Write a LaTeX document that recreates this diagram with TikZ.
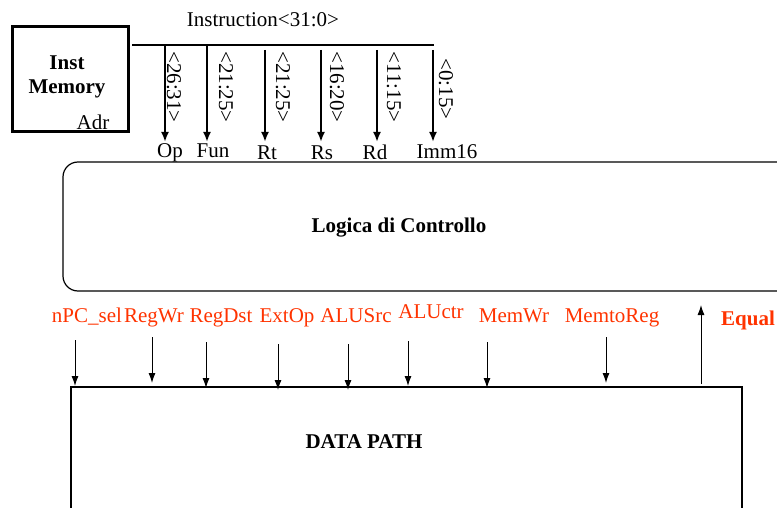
\documentclass[tikz,border=0pt]{standalone}
\usepackage{fontspec}
\setmainfont{Liberation Serif}
\usetikzlibrary{arrows.meta}
\definecolor{sigred}{RGB}{255,51,0}
\begin{document}
\begin{tikzpicture}[x=1pt,y=-1pt,
  every node/.style={inner sep=0pt,outer sep=0pt,font=\fontsize{21}{25}\selectfont},
  lbl/.style={anchor=base},
  sig/.style={anchor=base,text=sigred},
  bitlbl/.style={rotate=-90,anchor=center},
  busarrow/.style={line width=2pt,-{Latex[length=10pt,width=8pt]}},
  ctlarrow/.style={line width=1pt,-{Latex[length=10pt,width=7pt]}}]
\useasboundingbox (0,0) rectangle (777,508);
\begin{scope}
\clip (0,0) rectangle (777,508);
% Inst memory
\draw[line width=3pt] (12,27) rectangle (128,132);
\node[lbl,font=\fontsize{21}{25}\selectfont\bfseries] (inst) at (67,70) {Inst};
\node[lbl,font=\fontsize{21}{25}\selectfont\bfseries] (mem) at (67,94) {Memory};
\node[lbl] (adr) at (93,130) {Adr};
% bus
\coordinate (busL) at (132,45);
\coordinate (busR) at (434,45);
\draw[line width=2.5pt] (busL) -- (busR);
\node[lbl] (instr) at (263,27) {Instruction<31:0>};
% bit fields
\coordinate (s1) at (165,45); \coordinate (e1) at (165,142);
\coordinate (s2) at (207,45); \coordinate (e2) at (207,142);
\coordinate (s3) at (265,50); \coordinate (e3) at (265,142);
\coordinate (s4) at (321,50); \coordinate (e4) at (321,142);
\coordinate (s5) at (377,50); \coordinate (e5) at (377,142);
\coordinate (s6) at (433,50); \coordinate (e6) at (433,142);
\foreach \i in {1,...,6} \draw[busarrow] (s\i) -- (e\i);
\node[bitlbl] (b1) at (174,87) {<26:31>};
\node[bitlbl] (b2) at (226,87) {<21:25>};
\node[bitlbl] (b3) at (283,87) {<21:25>};
\node[bitlbl] (b4) at (337,87) {<16:20>};
\node[bitlbl] (b5) at (394,87) {<11:15>};
\node[bitlbl] (b6) at (446,89) {<0:15>};
\node[lbl] (op) at (170,158) {Op};
\node[lbl] (fun) at (213,158) {Fun};
\node[lbl] (rt) at (267,160) {Rt};
\node[lbl] (rs) at (322,160) {Rs};
\node[lbl] (rd) at (375,160) {Rd};
\node[lbl] (imm) at (447,159) {Imm16};
% control logic
\draw[line width=1.2pt,rounded corners=15pt] (63,162) rectangle (800,291);
\node[lbl,font=\fontsize{21}{25}\selectfont\bfseries] (ctl) at (399,233) {Logica di Controllo};
% control signals
\node[sig] (npc) at (87,322) {nPC\_sel};
\node[sig] (regwr) at (154,322) {RegWr};
\node[sig] (regdst) at (221,322) {RegDst};
\node[sig] (extop) at (287,322) {ExtOp};
\node[sig] (alusrc) at (356,322) {ALUSrc};
\node[sig] (aluctr) at (431,318) {ALUctr};
\node[sig] (memwr) at (514,322) {MemWr};
\node[sig] (memtoreg) at (612,322) {MemtoReg};
\node[sig,font=\fontsize{21}{25}\selectfont\bfseries] (equal) at (748,325) {Equal};
\coordinate (c1a) at (75,340);  \coordinate (c1b) at (75,386);
\coordinate (c2a) at (152,337); \coordinate (c2b) at (152,383);
\coordinate (c3a) at (206,342); \coordinate (c3b) at (206,388);
\coordinate (c4a) at (278,344); \coordinate (c4b) at (278,390);
\coordinate (c5a) at (348,344); \coordinate (c5b) at (348,390);
\coordinate (c6a) at (408,341); \coordinate (c6b) at (408,386);
\coordinate (c7a) at (487,342); \coordinate (c7b) at (487,388);
\coordinate (c8a) at (606,337); \coordinate (c8b) at (606,383);
\foreach \i in {1,...,8} \draw[ctlarrow] (c\i a) -- (c\i b);
\coordinate (eqa) at (701,384); \coordinate (eqb) at (701,305);
\draw[ctlarrow] (eqa) -- (eqb);
% data path
\draw[line width=1.2pt] (71,387) rectangle (742,530);
\node[lbl,font=\fontsize{21}{25}\selectfont\bfseries] (dp) at (364,448) {DATA PATH};
\end{scope}
\end{tikzpicture}
\end{document}
